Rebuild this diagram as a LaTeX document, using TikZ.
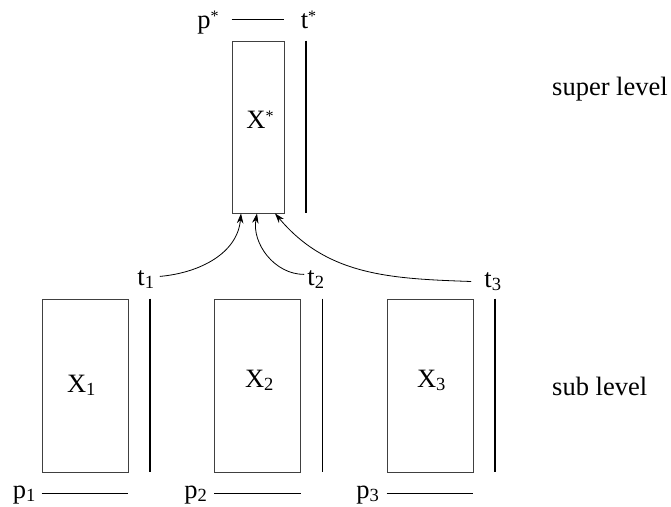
\documentclass[tikz,border=0pt]{standalone}
\usepackage{fontspec}
\setmainfont{Liberation Serif}
\usetikzlibrary{arrows.meta}
\newcommand{\starmark}{\raisebox{6.5pt}{\fontsize{16}{16}\selectfont*}}
\tikzset{
  box/.style={rectangle, draw=black!75, line width=0.8pt,
    minimum width=86pt, minimum height=173pt, inner sep=0pt},
  lab/.style={anchor=base, inner sep=0pt, font=\fontsize{26.5}{30}\selectfont},
  bar/.style={line width=1.4pt},
  arrow/.style={-{Stealth[length=10pt,width=6.5pt]}, line width=0.8pt}
}
\begin{document}
\begin{tikzpicture}[x=1pt,y=-1pt]
  \useasboundingbox (0,0) rectangle (671,506);
  % boxes
  \node[box, minimum width=52pt, minimum height=172pt] (xs) at (258,127) {};
  \node[box] (x1) at (85,385.5) {};
  \node[box] (x2) at (257.5,385.5) {};
  \node[box] (x3) at (430,385.5) {};
  \node[lab] at (260,128) {X\starmark};
  \node[lab] at (81.5,392) {X\textsubscript{1}};
  \node[lab] at (259.5,387) {X\textsubscript{2}};
  \node[lab] at (431.5,387) {X\textsubscript{3}};
  % bars
  \draw[bar] ([xshift=21.5pt]xs.north east) -- ([xshift=21.5pt]xs.south east);
  \draw[bar] ([yshift=21pt]xs.north west) -- ([yshift=21pt]xs.north east);
  \foreach \i in {1,2,3} {
    \draw[bar] ([xshift=21.5pt]x\i.north east) -- ([xshift=21.5pt]x\i.south east);
    \draw[bar] ([yshift=-21pt]x\i.south west) -- ([yshift=-21pt]x\i.south east);
  }
  % labels
  \node[lab] (ps) at (208,28) {p\starmark};
  \node[lab] (ts) at (308.5,28) {t\starmark};
  \node[lab] (t1) at (146,285) {t\textsubscript{1}};
  \node[lab] (t2) at (316,285) {t\textsubscript{2}};
  \node[lab] (t3) at (493,287) {t\textsubscript{3}};
  \node[lab] (p1) at (24.5,498) {p\textsubscript{1}};
  \node[lab] (p2) at (196,498) {p\textsubscript{2}};
  \node[lab] (p3) at (368,498) {p\textsubscript{3}};
  \node[lab, anchor=base west] (sup) at (552,95) {super level};
  \node[lab, anchor=base west] (sub) at (552,395) {sub level};
  % arrows
  \draw[arrow] ([xshift=5pt,yshift=3pt]t1.east) to[out=5,in=-95] ([xshift=-17pt]xs.south);
  \draw[arrow] ([xshift=-3pt,yshift=5pt]t2.west) to[out=180,in=-100] ([xshift=-1pt]xs.south);
  \draw[arrow] ([xshift=-13pt,yshift=0pt]t3.west) to[out=178,in=-50] ([xshift=17pt]xs.south);
\end{tikzpicture}
\end{document}
